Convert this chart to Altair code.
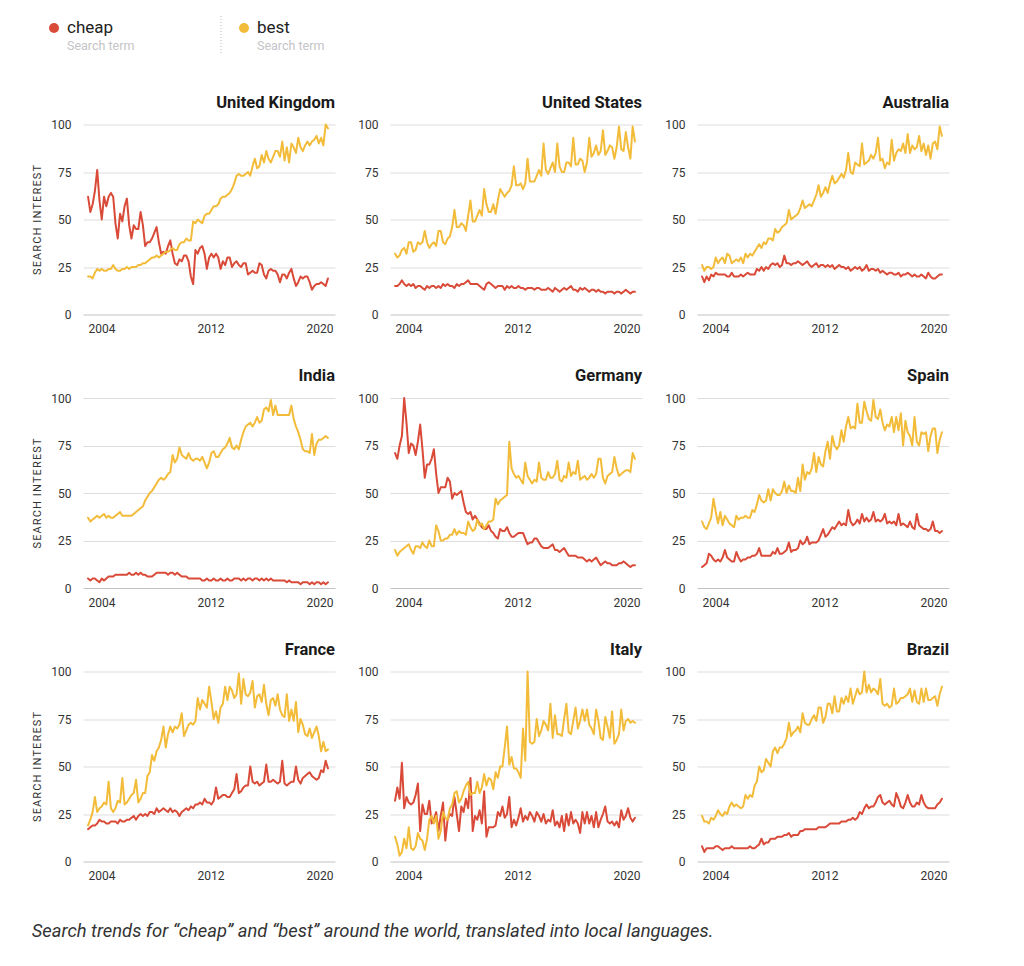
import altair as alt
import pandas as pd

# ---------------- data ----------------
COUNTRIES = ["United Kingdom", "United States", "Australia",
             "India", "Germany", "Spain",
             "France", "Italy", "Brazil"]
TERMS = ["cheap", "best"]
TERM_COLORS = ["#d94a38", "#f2bc3a"]
LEGEND_SUBTITLE = "Search term"
Y_TITLE = "SEARCH INTEREST"
CAPTION = "Search trends for \u201ccheap\u201d and \u201cbest\u201d around the world, translated into local languages."
X_TICKS = [2004, 2012, 2020]
Y_TICKS = [0, 25, 50, 75, 100]
# samples are evenly spaced between the first and last shown month
FIRST_SAMPLE = 2004.0
LAST_SAMPLE = 2019.67

UK_CHEAP = [62, 54, 58, 65, 76, 60, 50, 62, 57, 62, 64, 62, 48, 40, 53, 49, 57, 61,
            47, 40, 47, 45, 45, 54, 47, 36, 38, 38, 40, 43, 46, 38, 32, 33, 32, 36,
            39, 32, 27, 26, 29, 28, 31, 31, 28, 20, 16, 34, 32, 35, 36, 32, 24, 30,
            32, 30, 32, 30, 24, 28, 26, 30, 30, 25, 27, 28, 26, 25, 27, 27, 21, 22,
            23, 22, 22, 27, 26, 21, 19, 23, 24, 23, 23, 21, 17, 21, 21, 19, 22, 24,
            19, 15, 17, 20, 19, 20, 20, 17, 13, 15, 16, 16, 17, 16, 15, 19]
UK_BEST = [20, 20, 19, 22, 24, 23, 24, 23, 23, 24, 24, 26, 24, 23, 23, 24, 24, 25,
           24, 25, 25, 25, 26, 26, 27, 27, 28, 29, 30, 30, 31, 30, 31, 32, 33, 33,
           34, 35, 34, 34, 37, 38, 38, 40, 39, 39, 49, 48, 50, 49, 48, 52, 53, 53,
           55, 57, 57, 58, 61, 62, 62, 63, 64, 66, 69, 73, 74, 73, 73, 74, 75, 73,
           78, 82, 77, 78, 84, 80, 86, 82, 80, 83, 86, 86, 83, 91, 81, 88, 80, 90,
           88, 85, 93, 88, 86, 89, 91, 89, 91, 92, 94, 90, 93, 89, 100, 98]
US_CHEAP = [15, 15, 16, 18, 16, 15, 16, 15, 16, 14, 15, 15, 14, 13, 15, 14, 15, 15,
            14, 15, 14, 16, 15, 16, 15, 15, 14, 16, 15, 16, 16, 17, 18, 16, 16, 16,
            16, 15, 14, 13, 16, 17, 16, 15, 14, 15, 15, 15, 13, 15, 14, 15, 14, 14,
            15, 14, 14, 13, 14, 14, 14, 13, 14, 14, 13, 13, 13, 14, 13, 12, 14, 13,
            12, 13, 14, 13, 14, 15, 13, 13, 12, 14, 13, 14, 13, 12, 13, 13, 12, 13,
            12, 12, 11, 12, 12, 12, 11, 12, 12, 11, 12, 13, 12, 11, 12, 12]
US_BEST = [32, 30, 31, 34, 35, 32, 38, 38, 33, 34, 38, 37, 38, 44, 38, 35, 37, 38,
           36, 44, 44, 38, 37, 40, 41, 46, 55, 46, 46, 48, 47, 44, 52, 60, 49, 49,
           52, 55, 52, 66, 58, 54, 54, 58, 53, 60, 66, 64, 62, 64, 65, 68, 78, 68,
           68, 69, 66, 69, 82, 70, 70, 70, 73, 76, 73, 90, 76, 74, 77, 80, 75, 90,
           78, 75, 75, 80, 80, 78, 93, 79, 79, 82, 81, 75, 80, 93, 83, 85, 89, 84,
           86, 97, 84, 86, 89, 88, 82, 88, 99, 87, 86, 96, 88, 82, 99, 91]
AU_CHEAP = [20, 17, 20, 18, 21, 20, 22, 21, 21, 21, 21, 20, 20, 22, 20, 20, 20, 21,
            20, 21, 22, 21, 21, 21, 24, 23, 25, 23, 25, 24, 26, 27, 26, 27, 25, 26,
            31, 27, 27, 26, 27, 27, 28, 27, 26, 27, 28, 26, 25, 26, 27, 25, 26, 26,
            25, 26, 25, 26, 24, 25, 26, 25, 25, 24, 25, 23, 24, 25, 24, 25, 23, 24,
            26, 23, 24, 24, 23, 24, 22, 23, 22, 21, 22, 22, 21, 21, 22, 20, 21, 21,
            22, 21, 20, 21, 20, 20, 21, 20, 19, 22, 20, 19, 19, 20, 21, 21]
AU_BEST = [26, 23, 25, 25, 24, 25, 30, 27, 29, 30, 27, 32, 31, 27, 28, 29, 28, 30,
           27, 32, 30, 32, 31, 33, 35, 37, 35, 38, 37, 40, 40, 39, 45, 43, 44, 46,
           47, 48, 55, 50, 51, 52, 53, 56, 60, 56, 57, 58, 57, 60, 63, 68, 62, 64,
           67, 64, 69, 73, 69, 70, 72, 74, 72, 76, 85, 75, 74, 80, 79, 78, 90, 79,
           80, 81, 84, 82, 85, 93, 81, 82, 77, 80, 79, 92, 81, 85, 87, 86, 90, 85,
           95, 85, 89, 87, 88, 94, 86, 90, 84, 89, 82, 90, 91, 87, 99, 94]
IN_CHEAP = [5, 4, 5, 5, 4, 3, 5, 4, 5, 6, 6, 6, 7, 7, 7, 7, 7, 7,
            8, 7, 7, 8, 7, 8, 7, 7, 6, 6, 6, 7, 8, 8, 8, 8, 8, 7,
            8, 8, 7, 8, 7, 6, 6, 6, 5, 5, 5, 5, 5, 5, 4, 4, 5, 4,
            4, 5, 4, 4, 5, 4, 4, 5, 4, 4, 5, 5, 5, 4, 5, 4, 5, 5,
            4, 5, 5, 4, 5, 4, 5, 4, 5, 4, 4, 4, 4, 4, 4, 3, 4, 3,
            3, 3, 3, 2, 3, 3, 3, 2, 3, 2, 3, 3, 2, 3, 2, 3]
IN_BEST = [37, 35, 36, 37, 38, 37, 38, 39, 37, 38, 37, 37, 38, 39, 40, 38, 38, 38,
           38, 38, 39, 40, 41, 42, 43, 46, 48, 50, 51, 53, 55, 57, 58, 57, 58, 60,
           61, 70, 66, 68, 74, 70, 69, 68, 71, 68, 67, 68, 68, 67, 69, 66, 63, 66,
           71, 72, 69, 69, 71, 73, 74, 76, 79, 74, 73, 75, 73, 78, 82, 85, 86, 87,
           85, 87, 90, 87, 88, 94, 95, 93, 99, 91, 96, 91, 91, 91, 91, 91, 91, 96,
           89, 85, 82, 78, 73, 72, 72, 71, 81, 70, 76, 78, 78, 79, 80, 79]
DE_CHEAP = [71, 68, 75, 80, 100, 87, 71, 76, 75, 70, 77, 86, 73, 58, 65, 65, 68, 73,
            60, 50, 53, 53, 53, 58, 56, 47, 50, 49, 50, 51, 45, 40, 39, 40, 36, 38,
            36, 34, 32, 31, 31, 33, 30, 29, 27, 26, 31, 30, 30, 32, 29, 27, 27, 28,
            29, 29, 29, 26, 23, 24, 24, 26, 26, 24, 22, 21, 21, 21, 22, 23, 20, 20,
            19, 20, 21, 19, 17, 17, 17, 17, 16, 16, 16, 15, 14, 15, 14, 15, 16, 14,
            12, 13, 14, 13, 13, 12, 12, 12, 13, 13, 14, 13, 12, 11, 12, 12]
DE_BEST = [20, 17, 19, 20, 21, 22, 23, 20, 18, 22, 22, 21, 24, 22, 21, 25, 22, 22,
           33, 30, 25, 25, 26, 26, 28, 28, 31, 28, 30, 29, 29, 28, 35, 32, 30, 31,
           36, 33, 34, 31, 33, 35, 35, 36, 47, 44, 46, 47, 48, 49, 77, 63, 60, 58,
           59, 57, 55, 66, 59, 57, 55, 57, 56, 66, 58, 57, 57, 61, 58, 58, 60, 67,
           57, 56, 59, 58, 66, 59, 61, 60, 67, 57, 58, 59, 57, 58, 60, 58, 60, 68,
           68, 58, 55, 59, 60, 61, 69, 63, 59, 60, 61, 62, 62, 61, 71, 68]
ES_CHEAP = [11, 12, 13, 18, 17, 15, 14, 15, 14, 16, 20, 16, 15, 14, 14, 19, 16, 14,
            15, 15, 16, 16, 17, 17, 18, 21, 17, 17, 17, 17, 17, 19, 18, 21, 18, 18,
            19, 20, 24, 19, 20, 20, 21, 25, 23, 24, 27, 23, 24, 24, 24, 25, 28, 31,
            27, 28, 30, 32, 31, 33, 35, 33, 34, 33, 41, 35, 33, 34, 36, 34, 39, 35,
            37, 35, 36, 40, 35, 36, 35, 36, 39, 34, 35, 34, 35, 33, 39, 33, 34, 33,
            32, 35, 32, 31, 39, 33, 32, 31, 31, 30, 31, 35, 30, 30, 29, 30]
ES_BEST = [35, 32, 31, 34, 37, 47, 40, 34, 40, 33, 38, 36, 34, 33, 32, 38, 36, 37,
           37, 38, 37, 37, 41, 40, 44, 49, 46, 45, 46, 52, 46, 52, 50, 49, 49, 51,
           56, 50, 54, 51, 51, 50, 58, 51, 65, 57, 61, 60, 63, 71, 61, 69, 65, 64,
           72, 77, 68, 80, 75, 73, 75, 83, 77, 85, 90, 84, 85, 84, 97, 87, 87, 98,
           93, 89, 88, 99, 90, 89, 94, 87, 83, 86, 85, 90, 82, 90, 83, 92, 75, 88,
           82, 80, 75, 90, 77, 75, 82, 81, 82, 72, 80, 84, 84, 71, 78, 82]
FR_CHEAP = [17, 18, 19, 19, 20, 22, 21, 21, 20, 20, 21, 21, 21, 20, 22, 21, 21, 22,
            22, 23, 24, 22, 24, 25, 24, 25, 24, 26, 26, 25, 28, 26, 27, 28, 27, 26,
            28, 26, 27, 26, 24, 26, 27, 28, 27, 29, 28, 30, 30, 31, 30, 33, 31, 31,
            30, 32, 39, 33, 34, 35, 35, 34, 34, 36, 38, 46, 36, 37, 39, 40, 40, 50,
            42, 41, 42, 40, 41, 42, 51, 42, 42, 43, 42, 41, 42, 53, 41, 40, 41, 42,
            42, 50, 43, 41, 44, 45, 46, 47, 45, 44, 43, 44, 48, 47, 53, 49]
FR_BEST = [19, 22, 26, 34, 26, 28, 29, 31, 30, 42, 28, 26, 28, 32, 31, 44, 30, 31,
           33, 35, 36, 43, 31, 33, 36, 36, 45, 47, 56, 53, 58, 60, 64, 71, 60, 67,
           71, 68, 71, 70, 72, 78, 66, 69, 72, 73, 72, 74, 86, 80, 85, 83, 81, 92,
           84, 75, 79, 73, 81, 83, 92, 85, 92, 90, 86, 88, 99, 83, 96, 88, 87, 89,
           95, 81, 87, 88, 84, 93, 83, 77, 85, 86, 82, 88, 80, 77, 76, 88, 74, 80,
           74, 84, 68, 75, 72, 67, 66, 70, 65, 68, 71, 66, 58, 63, 58, 59]
IT_CHEAP = [32, 39, 33, 52, 28, 34, 31, 30, 31, 35, 41, 16, 30, 25, 25, 32, 20, 22,
            26, 16, 24, 31, 11, 22, 25, 24, 34, 25, 16, 29, 26, 33, 28, 44, 16, 24,
            22, 27, 20, 37, 13, 18, 18, 18, 19, 26, 24, 29, 23, 25, 34, 18, 22, 19,
            23, 28, 21, 24, 22, 26, 24, 21, 26, 24, 21, 25, 20, 22, 21, 27, 19, 21,
            18, 24, 16, 25, 19, 26, 20, 22, 20, 15, 26, 20, 26, 20, 24, 18, 26, 18,
            22, 25, 29, 21, 20, 21, 19, 21, 18, 27, 22, 24, 28, 23, 21, 23]
IT_BEST = [13, 9, 3, 5, 12, 7, 18, 7, 6, 8, 15, 12, 11, 6, 12, 22, 24, 20,
           24, 12, 16, 26, 23, 22, 28, 30, 36, 37, 31, 33, 37, 40, 42, 35, 36, 36,
           42, 36, 39, 46, 40, 44, 43, 38, 47, 44, 50, 50, 60, 71, 51, 55, 49, 49,
           47, 44, 70, 53, 100, 63, 62, 63, 75, 66, 69, 74, 72, 69, 83, 65, 77, 67,
           67, 66, 75, 83, 68, 67, 74, 81, 70, 74, 80, 74, 80, 72, 70, 67, 80, 74,
           65, 64, 76, 71, 65, 79, 62, 64, 67, 80, 69, 74, 75, 73, 74, 73]
BR_CHEAP = [8, 5, 7, 7, 7, 7, 8, 8, 7, 6, 7, 7, 7, 8, 7, 7, 7, 7,
            7, 7, 7, 8, 7, 7, 8, 9, 12, 9, 10, 10, 12, 12, 12, 13, 13, 13,
            14, 14, 15, 13, 14, 14, 14, 16, 16, 17, 17, 17, 17, 17, 17, 18, 18, 18,
            18, 19, 20, 20, 20, 20, 20, 21, 21, 21, 22, 22, 23, 22, 23, 26, 25, 28,
            30, 28, 29, 29, 31, 34, 35, 31, 30, 31, 32, 30, 29, 36, 33, 29, 28, 31,
            35, 31, 29, 29, 31, 30, 35, 31, 29, 28, 28, 28, 28, 30, 31, 33]
BR_BEST = [24, 21, 21, 20, 23, 22, 24, 27, 25, 24, 26, 25, 29, 31, 29, 30, 29, 28,
           29, 35, 33, 35, 34, 40, 42, 50, 47, 48, 54, 52, 50, 58, 60, 57, 60, 60,
           62, 65, 73, 66, 68, 69, 71, 68, 78, 73, 72, 72, 75, 77, 74, 81, 81, 73,
           76, 83, 83, 78, 87, 79, 79, 86, 83, 87, 84, 91, 83, 87, 91, 88, 89, 100,
           89, 93, 89, 91, 90, 88, 96, 83, 82, 83, 81, 82, 91, 83, 84, 86, 86, 87,
           88, 91, 84, 90, 84, 83, 91, 84, 91, 85, 85, 86, 87, 82, 88, 92]

SERIES = {
    "United Kingdom": (UK_CHEAP, UK_BEST),
    "United States": (US_CHEAP, US_BEST),
    "Australia": (AU_CHEAP, AU_BEST),
    "India": (IN_CHEAP, IN_BEST),
    "Germany": (DE_CHEAP, DE_BEST),
    "Spain": (ES_CHEAP, ES_BEST),
    "France": (FR_CHEAP, FR_BEST),
    "Italy": (IT_CHEAP, IT_BEST),
    "Brazil": (BR_CHEAP, BR_BEST),
}

records = []
for country, pair in SERIES.items():
    for term, vals in zip(TERMS, pair):
        n = len(vals)
        for i, v in enumerate(vals):
            t = FIRST_SAMPLE + (LAST_SAMPLE - FIRST_SAMPLE) * i / (n - 1)
            records.append({"country": country, "term": term, "t": t, "value": v})
df = pd.DataFrame(records)

# ---------------- styling ----------------
FONT = "Roboto"
TEXT = "#333333"
PANEL_W, PANEL_H = 252, 190
X_DOMAIN = [2003.67, 2020.13]


def panel(country, col):
    y_axis = dict(values=Y_TICKS, grid=True,
                  gridColor={"condition": {"test": "datum.value === 0", "value": "#c2c2c2"},
                             "value": "#dddddd"},
                  gridWidth=1, ticks=False, domain=False, labelPadding=12,
                  labelFontSize=12, labelColor=TEXT, labelFont=FONT)
    if col == 0:
        y_axis.update(title="\u200a".join(Y_TITLE), titleFontSize=11,
                      titleFontWeight="normal", titleColor=TEXT, titleFont=FONT,
                      titlePadding=8)
    else:
        y_axis.update(title=None)
    return (
        alt.Chart(df[df["country"] == country])
        .mark_line(strokeWidth=2, strokeJoin="round", strokeCap="round")
        .encode(
            x=alt.X("t:Q",
                    scale=alt.Scale(domain=X_DOMAIN, nice=False, zero=False),
                    axis=alt.Axis(values=X_TICKS, format="d", labelFlush=12,
                                  grid=False, ticks=False, domain=False,
                                  labelPadding=9, labelFontSize=12, labelColor=TEXT,
                                  labelFont=FONT, labelAngle=0, title=None)),
            y=alt.Y("value:Q", scale=alt.Scale(domain=[0, 100], nice=False),
                    axis=alt.Axis(**y_axis)),
            color=alt.Color("term:N", scale=alt.Scale(domain=TERMS, range=TERM_COLORS),
                            legend=None),
        )
        .properties(width=PANEL_W, height=PANEL_H,
                    title=alt.TitleParams(country, anchor="end", fontSize=16.5,
                                          fontWeight="bold", font=FONT,
                                          color="#1a1a1a", offset=7.5))
    )


# ---------------- custom legend ----------------
legend_df = pd.DataFrame({"term": TERMS, "sub": [LEGEND_SUBTITLE] * len(TERMS)})
lx = alt.X("term:N", scale=alt.Scale(domain=TERMS, range=[-29, 161], padding=0), axis=None)
lcolor = alt.Color("term:N", scale=alt.Scale(domain=TERMS, range=TERM_COLORS), legend=None)
lbase = alt.Chart(legend_df)
dots = lbase.mark_circle(size=100, opacity=1).encode(x=lx, y=alt.value(15), color=lcolor)
names = lbase.mark_text(align="left", baseline="middle", dx=13, fontSize=17,
                        font=FONT, color="#222222").encode(x=lx, y=alt.value(15), text="term:N")
subs = lbase.mark_text(align="left", baseline="middle", dx=13, fontSize=12.5,
                       font=FONT, color="#c4c4c8").encode(x=lx, y=alt.value(33), text="sub:N")
sep = alt.Chart(pd.DataFrame({"k": [0]})).mark_rule(
    strokeDash=[1, 2], color="#bbbbbb", strokeWidth=1
).encode(x=alt.value(138), y=alt.value(3), y2=alt.value(40))
legend = alt.layer(sep, dots, names, subs).properties(width=300, height=42)

rows = []
for r in range(3):
    rows.append(alt.hconcat(*[panel(COUNTRIES[r * 3 + j], j) for j in range(3)], spacing=22))
grid = alt.vconcat(*rows, spacing=33.5)

chart = (
    alt.vconcat(legend, grid, spacing=39.5)
    .properties(
        title=alt.TitleParams(CAPTION, orient="bottom", anchor="start", fontSize=18.4,
                              fontStyle="italic", fontWeight="normal", font=FONT,
                              color=TEXT, offset=40),
        padding={"left": 23, "top": 5, "right": 5, "bottom": 5},
    )
    .configure(font=FONT)
    .configure_view(strokeWidth=0)
)

chart.save("out.html", embed_options={"renderer": "svg", "actions": False})
